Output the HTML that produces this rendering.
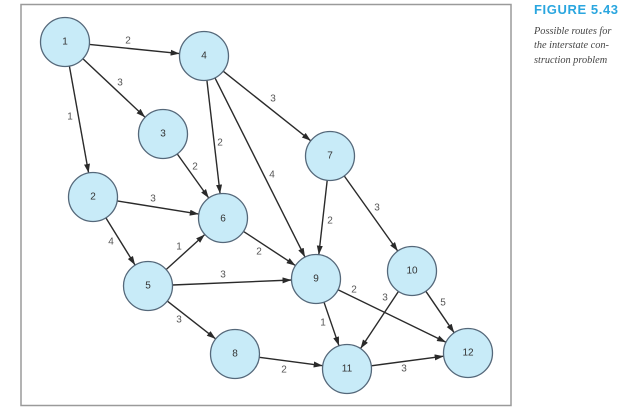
<!DOCTYPE html>
<html>
<head>
<meta charset="utf-8">
<style>
  html,body{margin:0;padding:0;background:#fff;}
  body{width:624px;height:411px;position:relative;overflow:hidden;}
  svg{position:absolute;left:0;top:0;}
  .title{position:absolute;left:534px;top:2px;font-family:"Liberation Sans",sans-serif;font-weight:bold;font-size:13px;color:#2aa6df;letter-spacing:0.6px;white-space:nowrap;}
  .cap{position:absolute;left:534px;top:24.5px;font-family:"Liberation Serif",serif;font-style:italic;font-size:10.3px;line-height:14.6px;color:#444;white-space:nowrap;}
</style>
</head>
<body>
<svg width="624" height="411" viewBox="0 0 624 411" xmlns="http://www.w3.org/2000/svg">
  <defs>
    <marker id="ah" markerUnits="userSpaceOnUse" markerWidth="10" markerHeight="7" refX="9" refY="3" orient="auto">
      <path d="M0,0 L9,3 L0,6 z" fill="#2a2a2a"/>
    </marker>
  </defs>
  <rect x="21" y="4.5" width="490" height="401" fill="none" stroke="#9a9a9a" stroke-width="1.5"/>
  <g stroke="#2a2a2a" stroke-width="1.4" marker-end="url(#ah)">
    <line x1="89.4" y1="44.4" x2="179.6" y2="53.6"/>
    <line x1="82.9" y1="58.8" x2="145.1" y2="117.2"/>
    <line x1="69.4" y1="66.1" x2="88.6" y2="172.9"/>
    <line x1="206.9" y1="80.3" x2="220.1" y2="193.7"/>
    <line x1="215" y1="77.9" x2="305" y2="257.1"/>
    <line x1="223.2" y1="71.2" x2="310.8" y2="140.8"/>
    <line x1="177.2" y1="153.9" x2="208.8" y2="198.1"/>
    <line x1="117.2" y1="200.9" x2="198.8" y2="214.1"/>
    <line x1="105.9" y1="217.9" x2="135.1" y2="265.1"/>
    <line x1="166.2" y1="269.5" x2="204.8" y2="234.5"/>
    <line x1="172.5" y1="285" x2="291.5" y2="280"/>
    <line x1="167.3" y1="301.1" x2="215.7" y2="338.9"/>
    <line x1="243.5" y1="231.4" x2="295.5" y2="265.6"/>
    <line x1="327.2" y1="180.3" x2="318.8" y2="254.7"/>
    <line x1="344.2" y1="175.9" x2="397.8" y2="251.1"/>
    <line x1="324" y1="302.2" x2="339" y2="345.8"/>
    <line x1="338" y1="289.7" x2="446" y2="342.3"/>
    <line x1="398.5" y1="291.4" x2="360.5" y2="348.6"/>
    <line x1="425.8" y1="291.2" x2="454.2" y2="332.8"/>
    <line x1="259.3" y1="357.3" x2="322.7" y2="365.7"/>
    <line x1="371.3" y1="365.8" x2="443.7" y2="356.2"/>
  </g>
  <g fill="#c8ebf8" stroke="#55687a" stroke-width="1.3">
    <circle cx="65" cy="42" r="24.5"/>
    <circle cx="93" cy="197" r="24.5"/>
    <circle cx="163" cy="134" r="24.5"/>
    <circle cx="204" cy="56" r="24.5"/>
    <circle cx="148" cy="286" r="24.5"/>
    <circle cx="223" cy="218" r="24.5"/>
    <circle cx="330" cy="156" r="24.5"/>
    <circle cx="235" cy="354" r="24.5"/>
    <circle cx="316" cy="279" r="24.5"/>
    <circle cx="412" cy="271" r="24.5"/>
    <circle cx="347" cy="369" r="24.5"/>
    <circle cx="468" cy="353" r="24.5"/>
  </g>
  <g font-family="Liberation Sans, sans-serif" font-size="10" fill="#333" text-anchor="middle" dominant-baseline="central">
    <text x="65" y="42">1</text>
    <text x="93" y="197">2</text>
    <text x="163" y="134">3</text>
    <text x="204" y="56">4</text>
    <text x="148" y="286">5</text>
    <text x="223" y="219">6</text>
    <text x="330" y="156">7</text>
    <text x="235" y="354">8</text>
    <text x="316" y="279">9</text>
    <text x="412" y="271">10</text>
    <text x="347" y="369">11</text>
    <text x="468" y="353">12</text>
  </g>
  <g font-family="Liberation Sans, sans-serif" font-size="10" fill="#555" text-anchor="middle" dominant-baseline="central">
    <text x="128" y="41">2</text>
    <text x="120" y="83">3</text>
    <text x="70" y="117">1</text>
    <text x="220" y="143">2</text>
    <text x="195" y="167">2</text>
    <text x="273" y="99">3</text>
    <text x="272" y="175">4</text>
    <text x="153" y="199">3</text>
    <text x="111" y="242">4</text>
    <text x="179" y="247">1</text>
    <text x="259" y="252">2</text>
    <text x="223" y="275">3</text>
    <text x="179" y="320">3</text>
    <text x="284" y="370">2</text>
    <text x="330" y="221">2</text>
    <text x="377" y="208">3</text>
    <text x="354" y="290">2</text>
    <text x="385" y="298">3</text>
    <text x="443" y="303">5</text>
    <text x="323" y="323">1</text>
    <text x="404" y="369">3</text>
  </g>
</svg>
<div class="title">FIGURE 5.43</div>
<div class="cap">Possible routes for<br>the interstate con-<br>struction problem</div>
</body>
</html>
